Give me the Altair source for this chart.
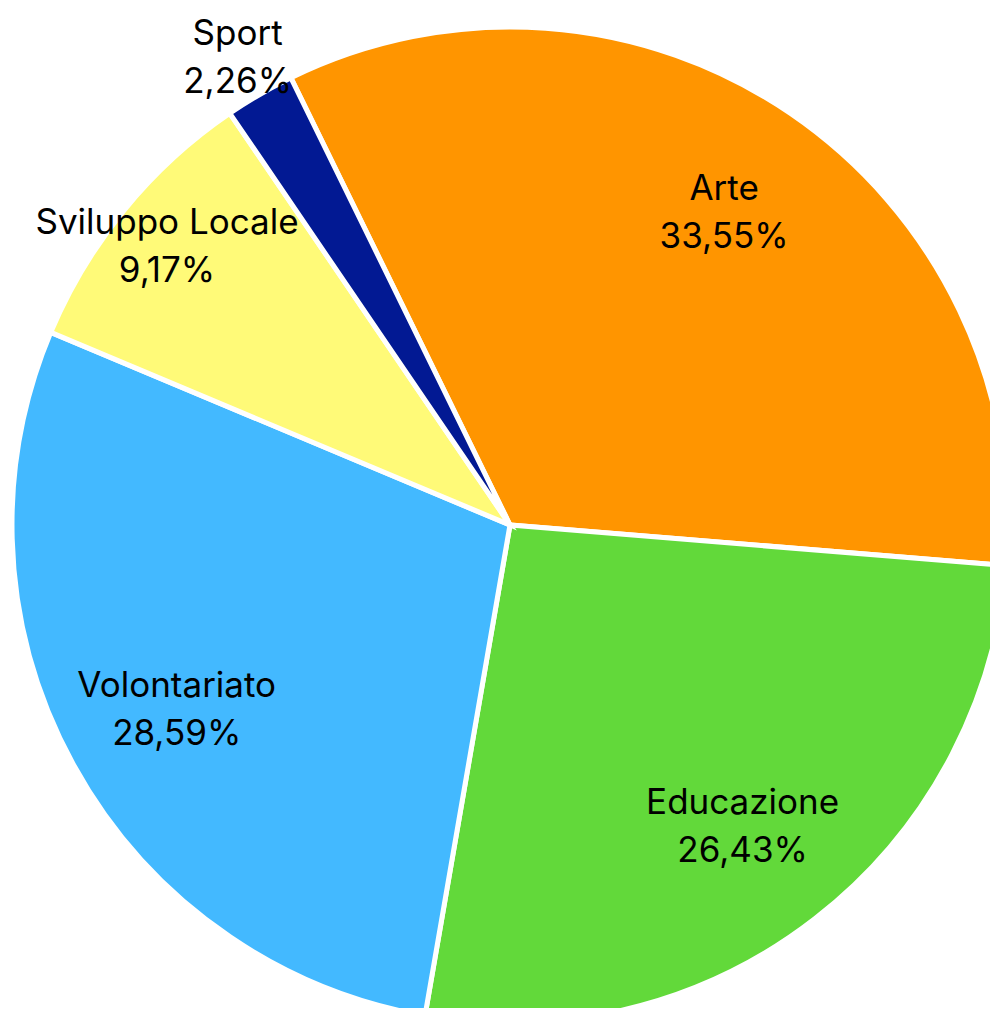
import math
import altair as alt
import pandas as pd

categories = ["Arte", "Educazione", "Volontariato", "Sviluppo Locale", "Sport"]
shares = [33.55, 26.43, 28.59, 9.17, 2.26]
colors = ["#FF9500", "#62D93A", "#43B9FF", "#FFFA78", "#021993"]

labels = [f"{c}\n{v:.2f}".replace(".", ",") + "%" for c, v in zip(categories, shares)]
df = pd.DataFrame({
    "category": categories,
    "share": shares,
    "order": list(range(len(categories))),
    "label": labels,
})

start = 2 * math.pi - math.radians(26.1)
theta_scale = alt.Scale(range=[start, start + 2 * math.pi])
cx, cy, R = 502, 517, 498

arcs = alt.Chart(df).mark_arc(outerRadius=R, stroke="white", strokeWidth=5).encode(
    theta=alt.Theta("share:Q", stack=True, scale=theta_scale),
    order=alt.Order("order:Q"),
    x=alt.value(cx),
    y=alt.value(cy),
    color=alt.Color("category:N", scale=alt.Scale(domain=categories, range=colors), legend=None),
)

text = alt.Chart(df).transform_joinaggregate(
    total="sum(share)"
).transform_window(
    cum="sum(share)", sort=[alt.SortField("order")], frame=[None, 0]
).transform_calculate(
    mid=f"{start} + 2 * PI * (datum.cum - datum.share / 2) / datum.total",
    lr="datum.share < 5 ? 542 : datum.share < 10 ? 443 : 380",
).mark_text(
    font="Inter", fontSize=35, color="black", lineBreak="\n", lineHeight=48,
    align="center", baseline="middle", dy=-22,
).encode(
    theta=alt.Theta("mid:Q", scale=None),
    radius=alt.Radius("lr:Q", scale=None),
    x=alt.value(cx),
    y=alt.value(cy),
    text="label:N",
)

chart = (arcs + text).properties(
    width=982, height=1000, autosize=alt.AutoSizeParams(type="none"), padding=0,
).configure_view(strokeWidth=0)

chart.save("out.html", embed_options={"renderer": "svg", "actions": False})
